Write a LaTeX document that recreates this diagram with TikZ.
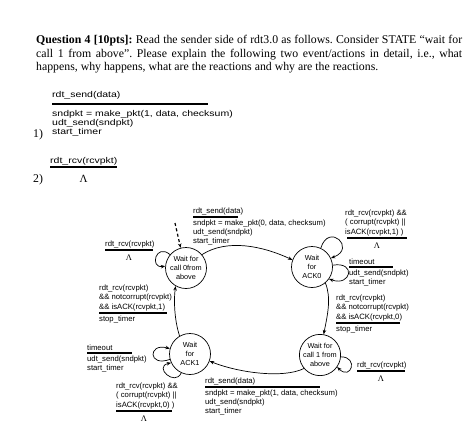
\documentclass[tikz,border=0pt]{standalone}
\usepackage{fontspec}
\setmainfont{Liberation Serif}
\setsansfont{Liberation Sans}
\usetikzlibrary{arrows.meta,positioning}
\setlength{\lineskiplimit}{-10pt}
\tikzset{
  st/.style={circle, draw, line width=0.7pt, minimum size=41pt, inner sep=0pt, align=center,
    font=\sffamily\fontsize{7.3}{9.3}\selectfont},
  lbl/.style={font=\sffamily\fontsize{7.7}{9.3}\selectfont, align=left, inner sep=0pt},
  ev/.style={lbl, anchor=south west, yshift=2pt},
  act/.style={lbl, anchor=north west, yshift=-2.5pt},
  rul/.style={line width=1.1pt},
  lam/.style={font=\rmfamily\fontsize{8.5}{9}\selectfont, inner sep=0pt, below=4pt},
  big/.style={inner sep=0pt, font=\sffamily\fontsize{10.5}{11.5}\selectfont},
  >={Stealth[length=4.5pt,width=3.5pt]}
}
\begin{document}
\begin{tikzpicture}[x=1pt,y=-1pt]
    \useasboundingbox (0,0) rectangle (476,442);
    % Đề bài
    \node[anchor=north west, text width=426pt, align=justify, inner sep=0pt,
      font=\fontsize{11.8}{13.5}\selectfont] (de) at (36,35)
      {\frenchspacing\textbf{Question 4 [10pts]:} Read the sender side of rdt3.0 as follows. Consider STATE “wait for\linebreak call 1 from above”. Please explain the following two event/actions in detail, i.e., what\linebreak happens, why happens, what are the reactions and why are the reactions.};
    
    % Hai sự kiện cần giải thích
    \node[big, anchor=base west] (su1) at (52,97.5) {\scalebox{1}[0.8]{rdt\_send(data)}};
    \draw[line width=1.5pt] (52,104) -- (208,104);
    \node[big, anchor=north west] (tt1) at (52,109.6)
      {\scalebox{1}[0.8]{\begin{tabular}{@{}l@{}}sndpkt = make\_pkt(1, data, checksum)\\udt\_send(sndpkt)\\start\_timer\end{tabular}}};
    \node[anchor=base west, inner sep=0pt, font=\fontsize{11.8}{13}\selectfont] (so1) at (33,137) {1)};
    \node[big, anchor=base west] (su2) at (50,163) {\scalebox{1}[0.8]{rdt\_rcv(rcvpkt)}};
    \draw[line width=1.5pt] (50,167) -- node[below=7pt, inner sep=0pt, font=\fontsize{11}{12}\selectfont] (lam2) {Λ} (117,167);
    \node[anchor=base west, inner sep=0pt, font=\fontsize{11.8}{13}\selectfont] (so2) at (33,182) {2)};
    
    % Các trạng thái
    \node[st] (w0) at (186,268) {Wait for\\call 0from\\above};
    \node[st] (ack0) at (312,267) {Wait\\for\\ACK0};
    \node[st] (ack1) at (190,354) {Wait\\for\\ACK1};
    \node[st] (w1) at (320,355) {Wait for\\call 1 from\\above};
    
    % Mũi tên khởi đầu
    \coordinate (bd) at (175,223);
    \draw[->, line width=1.2pt, dash pattern=on 3pt off 2.5pt] (bd) -- (w0.105);
    
    % Các chuyển trạng thái
    \draw[->, line width=0.7pt] (w0.40) .. controls +(25,-16) and +(-30,-14) .. (ack0.160);
    \draw[->, line width=0.7pt] (ack0.65) .. controls +(8,-26) and +(26,-10) .. (ack0.25);
    \draw[->, line width=0.7pt] (ack0.5) .. controls +(24,-4) and +(22,8) .. (ack0.-35);
    \draw[->, line width=0.7pt] (ack0.-50) .. controls +(6,15) and +(4,-20) .. (w1.80);
    \draw[->, line width=0.7pt] (w1.-5) .. controls +(18,0) and +(14,14) .. (w1.-35);
    \draw[->, line width=0.7pt] (w1.-140) .. controls +(-20,10) and +(30,12) .. (ack1.-20);
    \draw[->, line width=0.7pt] (ack1.195) .. controls +(-22,8) and +(-22,-6) .. (ack1.165);
    \draw[->, line width=0.7pt] (ack1.-115) .. controls +(-6,14) and +(-18,4) .. (ack1.-155);
    \draw[->, line width=0.7pt] (ack1.120) .. controls +(-5,-15) and +(-2,15) .. (w0.-120);
    \draw[->, line width=0.7pt] (w0.140) .. controls +(-14,-12) and +(-16,2) .. (w0.175);
    
    % Nhãn các chuyển trạng thái
    \node[ev] (eA) at (193,217) {rdt\_send(data)};
    \draw[rul] (193,217) -- (238,217);
    \node[act] (aA) at (193,217) {sndpkt = make\_pkt(0, data, checksum)\\udt\_send(sndpkt)\\start\_timer};
    
    \node[ev] (eB) at (345,238) {rdt\_rcv(rcvpkt) \&\&\\( corrupt(rcvpkt) ||\\isACK(rcvpkt,1) )};
    \draw[rul] (347,238) -- node[lam] (lB) {Λ} (407,238);
    
    \node[ev] (eC) at (349,267) {timeout};
    \draw[rul] (349,267) -- (393,267);
    \node[act] (aC) at (349,267) {udt\_send(sndpkt)\\start\_timer};
    
    \node[ev] (eD) at (336,323) {rdt\_rcv(rcvpkt)\\\&\& notcorrupt(rcvpkt)\\\&\& isACK(rcvpkt,0)};
    \draw[rul] (336,323) -- (400,323);
    \node[act] (aD) at (336,323) {stop\_timer};
    
    \node[ev] (eE) at (357,371) {rdt\_rcv(rcvpkt)};
    \draw[rul] (357,371) -- node[lam] (lE) {Λ} (405,371);
    
    \node[ev] (eF) at (205,387) {rdt\_send(data)};
    \draw[rul] (205,387) -- (320,387);
    \node[act] (aF) at (205,387) {sndpkt = make\_pkt(1, data, checksum)\\udt\_send(sndpkt)\\start\_timer};
    
    \node[ev] (eG) at (116,411) {rdt\_rcv(rcvpkt) \&\&\\( corrupt(rcvpkt) ||\\isACK(rcvpkt,0) )};
    \draw[rul] (116,411) -- node[lam] (lG) {Λ} (172,411);
    
    \node[ev] (eH) at (87,353) {timeout};
    \draw[rul] (87,353) -- (132,353);
    \node[act] (aH) at (87,353) {udt\_send(sndpkt)\\start\_timer};
    
    \node[ev] (eI) at (99,313) {rdt\_rcv(rcvpkt)\\\&\& notcorrupt(rcvpkt)\\\&\& isACK(rcvpkt,1)};
    \draw[rul] (99,313) -- (167,313);
    \node[act] (aI) at (99,313) {stop\_timer};
    
    \node[ev] (eJ) at (105,250) {rdt\_rcv(rcvpkt)};
    \draw[rul] (105,250) -- node[lam] (lJ) {Λ} (153,250);
\end{tikzpicture}
\end{document}
